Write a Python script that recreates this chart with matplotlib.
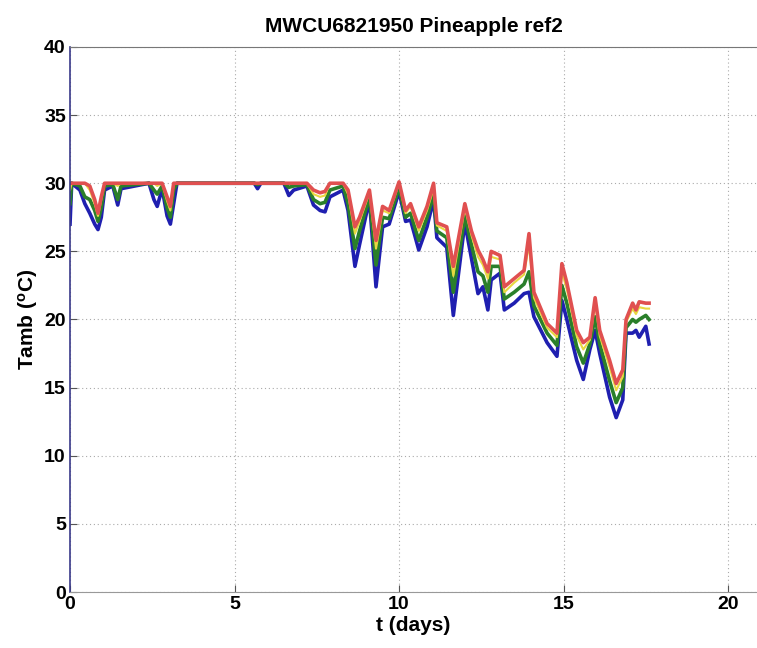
import matplotlib
matplotlib.use("Agg")
import matplotlib.pyplot as plt

plt.rcParams['font.family'] = ['Liberation Sans', 'DejaVu Sans']
plt.rcParams['mathtext.fontset'] = 'custom'
plt.rcParams['mathtext.rm'] = 'Liberation Sans:bold'
plt.rcParams['mathtext.it'] = 'Liberation Sans:bold'
plt.rcParams['mathtext.bf'] = 'Liberation Sans:bold'

title = "MWCU6821950 Pineapple ref2"
xlabel = "t (days)"
ylabel = r"Tamb ($^{\mathrm{o}}$C)"
xticks = [0, 5, 10, 15, 20]
yticks = [0, 5, 10, 15, 20, 25, 30, 35, 40]

t_days = [0.0, 0.05, 0.3, 0.45, 0.6, 0.75, 0.85, 0.95, 1.05, 1.3, 1.45, 1.55,
          2.4, 2.55, 2.65, 2.8, 2.95, 3.05, 3.15, 3.25, 5.6, 5.7, 5.8, 6.5,
          6.65, 6.8, 7.2, 7.4, 7.6, 7.75, 7.9, 8.3, 8.45, 8.66, 8.8, 9.1,
          9.3, 9.5, 9.7, 10.0, 10.2, 10.35, 10.6, 10.85, 11.05, 11.15, 11.45,
          11.65, 12.0, 12.2, 12.4, 12.55, 12.7, 12.8, 13.07, 13.2, 13.5, 13.8,
          13.95, 14.1, 14.5, 14.8, 14.95, 15.1, 15.4, 15.6, 15.8, 15.96, 16.1,
          16.4, 16.6, 16.8, 16.9, 17.1, 17.2, 17.3, 17.5, 17.6]

temp_blue = [27.0, 30.0, 29.5, 28.5, 27.8, 27.0, 26.6, 27.5, 29.5, 29.8, 28.4, 29.6,
             30.0, 28.8, 28.3, 29.6, 27.6, 27.0, 28.5, 30.0, 30.0, 29.6, 30.0, 30.0,
             29.1, 29.5, 29.8, 28.4, 28.0, 27.9, 29.0, 29.5, 28.0, 23.9, 25.5, 28.8,
             22.4, 26.8, 27.0, 29.4, 27.2, 27.3, 25.1, 26.8, 28.8, 26.0, 25.3,
             20.3, 27.1, 24.5, 21.9, 22.4, 20.7, 22.9, 23.4, 20.7, 21.2, 21.9,
             22.0, 20.2, 18.3, 17.3, 21.4, 20.0, 17.0, 15.6, 17.8, 19.2, 17.5,
             14.3, 12.8, 14.1, 19.0, 19.0, 19.2, 18.7, 19.5, 18.2]

temp_green = [28.5, 30.0, 29.8, 29.0, 28.8, 28.0, 27.2, 28.2, 29.8, 29.9, 28.8, 29.8,
              30.0, 29.5, 29.2, 29.8, 28.2, 27.5, 29.5, 30.0, 30.0, 29.9, 30.0, 30.0,
              29.7, 29.8, 29.9, 28.8, 28.5, 28.6, 29.5, 29.8, 28.5, 25.2, 26.5, 29.0,
              24.0, 27.5, 27.4, 29.7, 27.5, 27.8, 25.8, 27.5, 29.2, 26.5, 26.0,
              22.0, 27.6, 25.5, 23.5, 23.2, 22.0, 23.9, 23.9, 21.5, 22.0, 22.6,
              23.5, 21.0, 19.0, 18.1, 22.5, 21.2, 18.0, 16.8, 18.2, 20.2, 18.2,
              15.5, 13.9, 15.0, 19.4, 20.0, 19.8, 20.0, 20.3, 20.0]

temp_yellow = [29.5, 30.0, 30.0, 30.0, 29.5, 28.5, 27.6, 28.8, 30.0, 30.0, 29.8, 30.0,
               30.0, 30.0, 29.8, 30.0, 28.7, 28.0, 30.0, 30.0, 30.0, 30.0, 30.0, 30.0,
               30.0, 30.0, 30.0, 29.2, 29.0, 29.1, 30.0, 30.0, 29.2, 26.3, 27.2, 29.3,
               25.2, 28.0, 27.8, 30.0, 27.8, 28.3, 26.5, 28.0, 29.6, 26.9, 26.5,
               23.2, 28.2, 26.2, 24.6, 24.0, 23.0, 24.6, 24.4, 22.0, 22.7, 23.3,
               25.5, 21.6, 19.4, 18.7, 23.5, 22.2, 18.8, 17.8, 18.5, 21.2, 18.8,
               16.5, 14.8, 15.8, 19.8, 20.8, 20.4, 20.9, 20.8, 20.8]

temp_red = [30.0, 30.0, 30.0, 30.0, 29.8, 28.8, 27.8, 29.0, 30.0, 30.0, 30.0, 30.0,
            30.0, 30.0, 30.0, 30.0, 29.0, 28.3, 30.0, 30.0, 30.0, 30.0, 30.0, 30.0,
            30.0, 30.0, 30.0, 29.5, 29.3, 29.4, 30.0, 30.0, 29.5, 26.8, 27.5, 29.5,
            25.8, 28.3, 28.0, 30.1, 28.0, 28.5, 26.8, 28.3, 30.0, 27.1, 26.8,
            23.9, 28.5, 26.5, 25.1, 24.4, 23.5, 25.0, 24.7, 22.4, 23.0, 23.6,
            26.3, 22.0, 19.7, 19.0, 24.1, 22.7, 19.2, 18.3, 18.7, 21.6, 19.2,
            17.0, 15.3, 16.3, 20.0, 21.2, 20.7, 21.3, 21.2, 21.2]

fig = plt.figure(figsize=(7.57, 6.48), dpi=100)
ax = fig.add_axes([0.0925, 0.0864, 0.9075, 0.8411])

lw = 2.6
ax.plot(t_days, temp_blue, color='#1f1fb0', lw=lw, solid_joinstyle='round')
ax.plot(t_days, temp_green, color='#2a7f2a', lw=lw, solid_joinstyle='round')
ax.plot(t_days, temp_yellow, color='#e8d840', lw=1.5, solid_joinstyle='round')
ax.plot(t_days, temp_red, color='#e05050', lw=lw, solid_joinstyle='round')

ax.set_xlim(0, 20.88)
ax.set_ylim(0, 40)
ax.set_xticks(xticks)
ax.set_yticks(yticks)
ax.set_xticklabels([str(v) for v in xticks], fontsize=14, fontweight='bold')
ax.set_yticklabels([str(v) for v in yticks], fontsize=14, fontweight='bold')
ax.tick_params(direction='in', length=5, width=0.8, colors='#555555',
               labelcolor='black', pad=3)
ax.grid(True, linestyle=(0, (1, 2.5)), color='#aaaaaa', linewidth=0.8)
ax.spines['right'].set_visible(False)
ax.spines['left'].set_color('#3a3a8a')
ax.spines['left'].set_linewidth(1.2)
ax.spines['top'].set_color('#777777')
ax.spines['bottom'].set_color('#999999')

ax.set_title(title, fontsize=15, fontweight='bold', pad=11)
ax.set_xlabel(xlabel, fontsize=15, fontweight='bold', labelpad=2)
ax.set_ylabel(ylabel, fontsize=15, fontweight='bold', labelpad=3)

fig.savefig('out.png', dpi=100)
